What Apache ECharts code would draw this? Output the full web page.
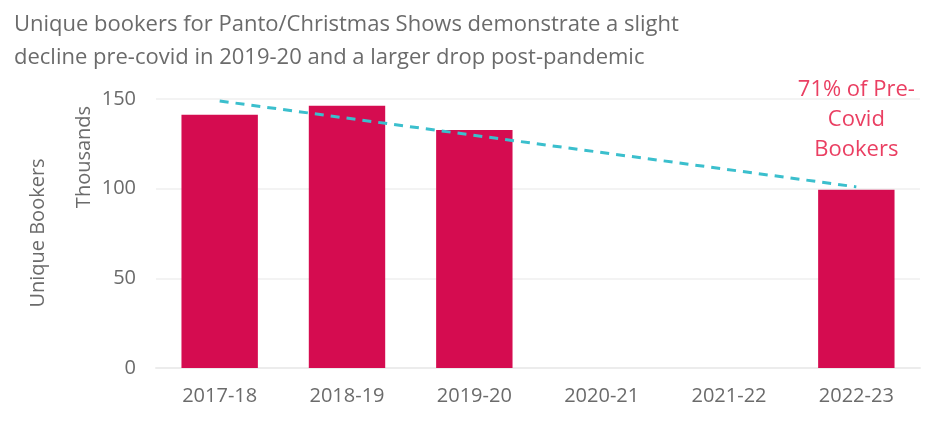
<!DOCTYPE html>
<html><head><meta charset="utf-8">
<script src="https://cdn.jsdelivr.net/npm/echarts@6/dist/echarts.min.js"></script>
<style>html,body{margin:0;padding:0;background:#fff}#c{width:943px;height:424px}</style>
</head><body><div id="c"></div>
<script>
var categories = ['2017-18','2018-19','2019-20','2020-21','2021-22','2022-23'];
var bookers = [141.2, 146.2, 132.7, null, null, 99.4];
var trend = [148.9, null, null, null, null, 101.0];
var yTicks = [0, 50, 100, 150];
var titleLines = ['Unique bookers for Panto/Christmas Shows demonstrate a slight','decline pre-covid in 2019-20 and a larger drop post-pandemic'];
var annotation = ['71% of Pre-','Covid','Bookers'];

var FONT = '"Open Sans", sans-serif';
var chart = echarts.init(document.getElementById('c'));
chart.setOption({
  animation: false,
  backgroundColor: '#fff',
  title: {
    text: titleLines.join('\n'), left: 9, top: 3,
    textStyle: {fontFamily: FONT, fontSize: 22, fontWeight: 'normal', color: '#6b6b6b', lineHeight: 33}
  },
  grid: {left: 156, right: 23, top: 99, bottom: 56},
  xAxis: {
    type: 'category', data: categories,
    axisLine: {show: true, lineStyle: {color: '#ececec', width: 2}},
    axisTick: {show: false},
    axisLabel: {fontFamily: FONT, fontSize: 20, color: '#6b6b6b', margin: 18}
  },
  yAxis: {
    type: 'value', min: yTicks[0], max: yTicks[yTicks.length-1], interval: 50,
    axisLine: {show: false}, axisTick: {show: false},
    splitLine: {lineStyle: {color: '#efefef', width: 1.5}},
    axisLabel: {fontFamily: FONT, fontSize: 20, color: '#6b6b6b', margin: 20}
  },
  graphic: [
    {type: 'text', x: 38, y: 233, rotation: Math.PI/2, style: {text: 'Unique Bookers', font: '20px ' + FONT, fill: '#6b6b6b', textAlign: 'center', textVerticalAlign: 'middle'}},
    {type: 'text', x: 84, y: 157, rotation: Math.PI/2, style: {text: 'Thousands', font: '20px ' + FONT, fill: '#6b6b6b', textAlign: 'center', textVerticalAlign: 'middle'}}
  ],
  series: [
    {
      type: 'bar', data: bookers, barWidth: '60%',
      itemStyle: {color: '#d50c50'}
    },
    {
      type: 'line', data: trend, connectNulls: true, symbol: 'none', z: 5,
      lineStyle: {color: '#3bbfcd', width: 3, type: [9, 7]},
      markPoint: {
        symbol: 'rect', symbolSize: 1, itemStyle: {color: 'transparent'},
        data: [{coord: [5, 150], value: 0}],
        label: {show: true, formatter: annotation.join('\n'), fontFamily: FONT, fontSize: 22, color: '#ea3f62', lineHeight: 30, align: 'center', verticalAlign: 'middle', offset: [0, 21]}
      }
    }
  ]
});
</script></body></html>
